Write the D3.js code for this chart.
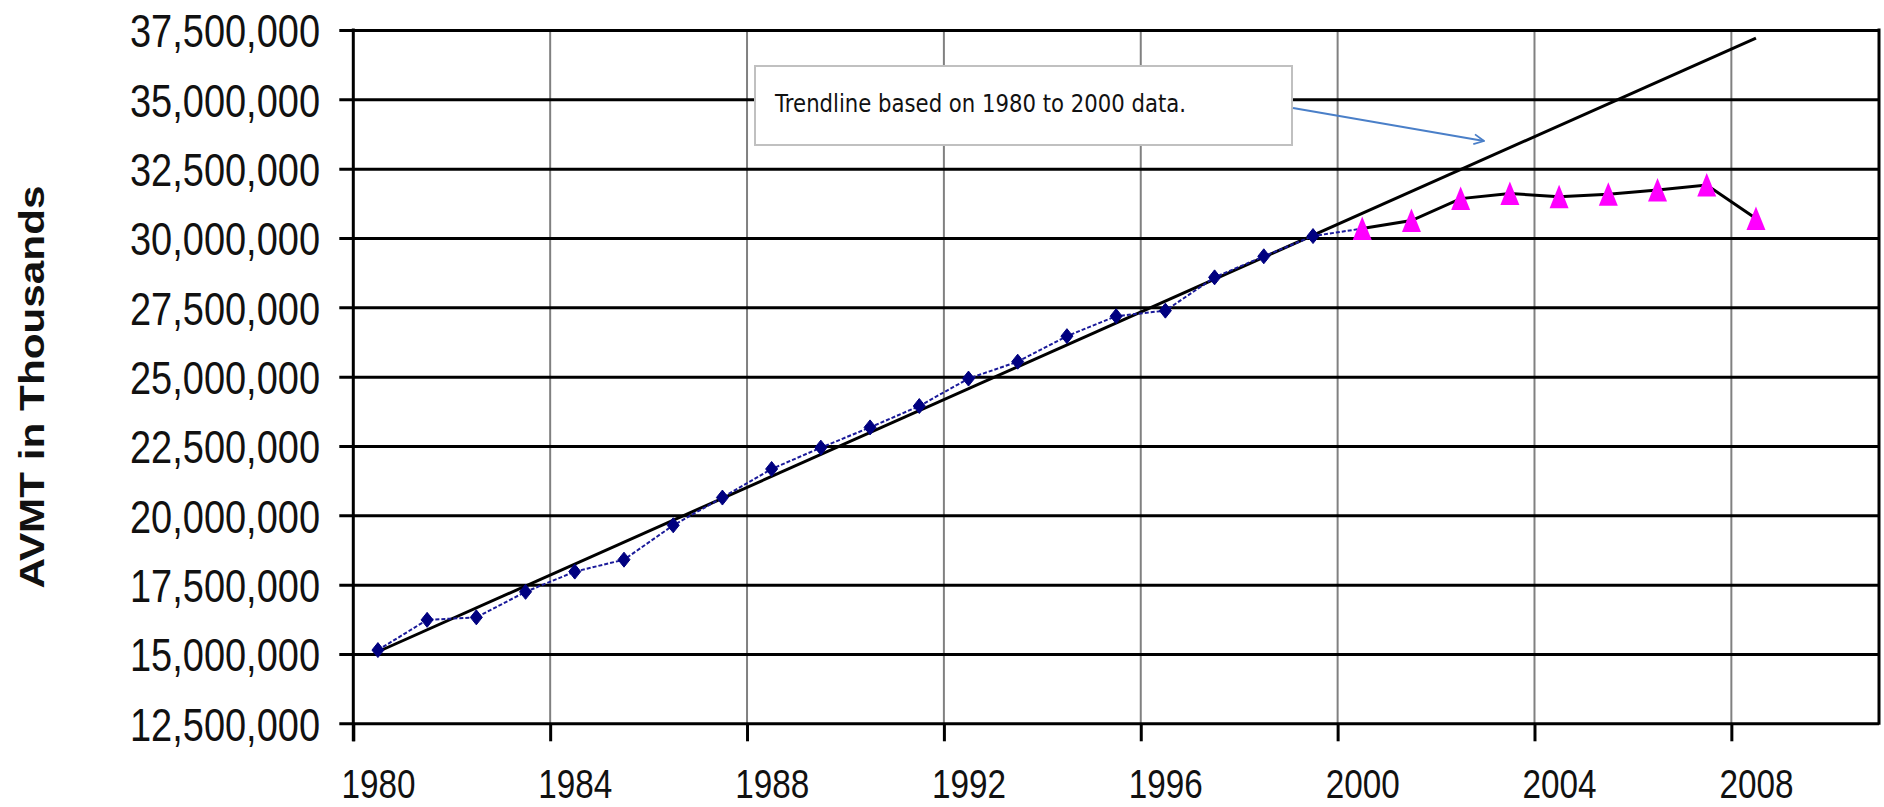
<!DOCTYPE html>
<html>
<head>
<meta charset="utf-8">
<script src="https://cdn.jsdelivr.net/npm/d3@7"></script>
<style>
  html, body { margin: 0; padding: 0; background: #ffffff; }
  svg { display: block; }
</style>
</head>
<body>
<svg id="chart" width="1884" height="807"></svg>
<script>
// ---------------- data ----------------
const blueYears  = [1980,1981,1982,1983,1984,1985,1986,1987,1988,1989,1990,
                    1991,1992,1993,1994,1995,1996,1997,1998,1999,2000];
const blueValues = [15140000,16230000,16320000,17240000,17970000,18400000,19640000,
                    20640000,21670000,22440000,23170000,23940000,24930000,25540000,
                    26460000,27180000,27380000,28580000,29340000,30070000,30340000];
const pinkYears  = [2000,2001,2002,2003,2004,2005,2006,2007,2008];
const pinkValues = [30340000,30630000,31420000,31600000,31490000,31580000,31730000,31910000,30700000];
const trendYears  = [1980, 2008];
const trendValues = [15080000, 37210000];
const yTickValues = [12500000,15000000,17500000,20000000,22500000,25000000,
                     27500000,30000000,32500000,35000000,37500000];
const xTickYears  = [1980,1984,1988,1992,1996,2000,2004,2008];
const yAxisTitle  = "AVMT in Thousands";
const noteText    = "Trendline based on 1980 to 2000 data.";

// ---------------- layout ----------------
(function () {
const mLeft = 353.3, mRight = 1879, mTop = 30, mBottom = 723.3;
const svg = d3.select("#chart");
const FONT = "'Liberation Sans', Arial, sans-serif";

const x = d3.scaleLinear().domain([1980, 2011]).range([mLeft, mRight]);
const y = d3.scaleLinear().domain([12500000, 37500000]).range([mBottom, mTop]);
const xc = yr => x(yr + 0.5);   // points sit in the middle of each year slot

// vertical grid lines (grey)
svg.append("g").selectAll("line")
  .data(xTickYears.filter(d => d !== 1980))
  .join("line")
  .attr("x1", d => x(d)).attr("x2", d => x(d))
  .attr("y1", mTop).attr("y2", mBottom)
  .attr("stroke", "#808080").attr("stroke-width", 2);

// y axis with horizontal grid lines
const yAxis = svg.append("g")
  .attr("transform", `translate(${mLeft},0)`)
  .call(d3.axisLeft(y).tickValues(yTickValues).tickFormat(d3.format(","))
        .tickSize(-(mRight - mLeft)).tickSizeOuter(0).tickPadding(mLeft - 320));
yAxis.select(".domain").remove();
yAxis.selectAll(".tick line")
  .attr("x1", -14).attr("stroke", "#000").attr("stroke-width", 3);
yAxis.selectAll(".tick text")
  .attr("font-family", FONT).attr("font-size", 47).attr("fill", "#111")
  .attr("dy", "0.36em")
  .attr("textLength", 190).attr("lengthAdjust", "spacingAndGlyphs");

// x axis
const xAxis = svg.append("g")
  .attr("transform", `translate(0,${mBottom})`)
  .call(d3.axisBottom(x).tickValues(xTickYears).tickFormat(d3.format("d"))
        .tickSize(18).tickSizeOuter(0));
xAxis.select(".domain").remove();
xAxis.selectAll(".tick line").attr("stroke", "#000").attr("stroke-width", 3);
xAxis.selectAll(".tick text")
  .attr("font-family", FONT).attr("font-size", 40).attr("fill", "#111")
  .attr("x", x(1980.5) - x(1980)).attr("y", 74.5).attr("dy", 0)
  .attr("textLength", 74).attr("lengthAdjust", "spacingAndGlyphs");

// y axis line and right border
svg.append("line").attr("x1", mLeft).attr("x2", mLeft).attr("y1", mTop - 1.5).attr("y2", mBottom + 18)
  .attr("stroke", "#000").attr("stroke-width", 3);
svg.append("line").attr("x1", mRight).attr("x2", mRight).attr("y1", mTop - 1.5).attr("y2", mBottom + 1.5)
  .attr("stroke", "#000").attr("stroke-width", 3);

// y axis title
svg.append("text")
  .attr("transform", `translate(44,387) rotate(-90)`)
  .attr("text-anchor", "middle")
  .attr("font-family", FONT).attr("font-weight", "bold").attr("font-size", 35)
  .attr("fill", "#111")
  .attr("textLength", 403).attr("lengthAdjust", "spacingAndGlyphs")
  .text(yAxisTitle);

// ---------------- series ----------------
const line = d3.line().x(d => xc(d[0])).y(d => y(d[1]));

// trendline
svg.append("path")
  .datum(d3.zip(trendYears, trendValues))
  .attr("d", line)
  .attr("fill", "none").attr("stroke", "#000").attr("stroke-width", 3);

// blue series line
const blue = d3.zip(blueYears, blueValues);
svg.append("path")
  .datum(blue)
  .attr("d", line)
  .attr("fill", "none").attr("stroke", "#1a1a9a").attr("stroke-width", 2)
  .attr("stroke-dasharray", "4,2");

// diamonds
svg.append("g").selectAll("path")
  .data(blue.filter(d => d[0] < 2000))
  .join("path")
  .attr("transform", d => `translate(${xc(d[0])},${y(d[1])})`)
  .attr("d", "M0,-7.5L6,0L0,7.5L-6,0Z")
  .attr("fill", "#000080").attr("stroke", "#000080").attr("stroke-width", 1);

// pink series line (black)
const pink = d3.zip(pinkYears, pinkValues);
svg.append("path")
  .datum(pink)
  .attr("d", line)
  .attr("fill", "none").attr("stroke", "#000").attr("stroke-width", 3);

// triangles
svg.append("g").selectAll("path")
  .data(pink)
  .join("path")
  .attr("transform", d => `translate(${xc(d[0])},${y(d[1])})`)
  .attr("d", "M0,-12L9.5,11.5L-9.5,11.5Z")
  .attr("fill", "#ff00ff");

// ---------------- annotation ----------------
svg.append("rect")
  .attr("x", 755).attr("y", 66).attr("width", 537).attr("height", 79)
  .attr("fill", "#fff").attr("stroke", "#c0c0c0").attr("stroke-width", 2);
svg.append("text")
  .attr("x", 775).attr("y", 111.5)
  .attr("font-family", "'DejaVu Sans', Verdana, sans-serif").attr("font-size", 24)
  .attr("fill", "#111")
  .attr("textLength", 411).attr("lengthAdjust", "spacingAndGlyphs")
  .text(noteText);

svg.append("defs").append("marker")
  .attr("id", "arrow").attr("viewBox", "0 0 12 12")
  .attr("refX", 11).attr("refY", 6)
  .attr("markerWidth", 12).attr("markerHeight", 12)
  .attr("markerUnits", "userSpaceOnUse").attr("orient", "auto")
  .append("path").attr("d", "M1,1L11,6L1,11")
  .attr("fill", "none").attr("stroke", "#4a7fc8").attr("stroke-width", 1.8);

svg.append("line")
  .attr("x1", 1293).attr("y1", 108).attr("x2", 1484).attr("y2", 141)
  .attr("stroke", "#4a7fc8").attr("stroke-width", 2)
  .attr("marker-end", "url(#arrow)");
})();
</script>
</body>
</html>
